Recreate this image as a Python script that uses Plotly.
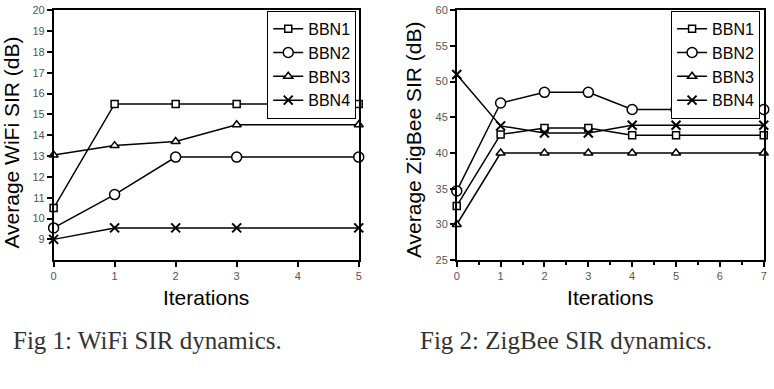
import plotly.graph_objects as go

# ---- data ----
series_names = ["BBN1", "BBN2", "BBN3", "BBN4"]

wifi_iter = [0, 1, 2, 3, 5]
wifi_bbn1 = [10.5, 15.5, 15.5, 15.5, 15.5]
wifi_bbn2 = [9.55, 11.15, 12.95, 12.95, 12.95]
wifi_bbn3 = [13.05, 13.5, 13.7, 14.5, 14.5]
wifi_bbn4 = [9.0, 9.55, 9.55, 9.55, 9.55]

zig_iter = [0, 1, 2, 3, 4, 5, 7]
zig_bbn1 = [32.6, 42.6, 43.5, 43.5, 42.5, 42.5, 42.5]
zig_bbn2 = [34.7, 47.0, 48.5, 48.5, 46.1, 46.1, 46.1]
zig_bbn3 = [30.0, 40.0, 40.0, 40.0, 40.0, 40.0, 40.0]
zig_bbn4 = [51.0, 43.8, 42.8, 42.8, 43.9, 43.9, 43.9]

wifi_yticks = list(range(9, 21))
zig_yticks = [25, 30, 35, 40, 45, 50, 55, 60]
wifi_xticks = [0, 1, 2, 3, 4, 5]
zig_xticks = [0, 1, 2, 3, 4, 5, 6, 7]

y_titles = ["Average WiFi SIR (dB)", "Average ZigBee SIR (dB)"]
x_title = "Iterations"
captions = ["Fig 1: WiFi SIR dynamics.", "Fig 2: ZigBee SIR dynamics."]

# ---- styles ----
symbols = ["square", "circle", "triangle-up", "x-thin"]
sizes = [7, 10, 8, 9]

fig = go.Figure()

def add_series(xv, ys, xa, ya, legend):
    for name, yv, sym, sz in zip(series_names, ys, symbols, sizes):
        marker = dict(symbol=sym, size=sz, color="white",
                      line=dict(color="black", width=1.5))
        if sym == "x-thin":
            marker = dict(symbol=sym, size=sz, color="black",
                          line=dict(color="black", width=2))
        fig.add_trace(go.Scatter(
            x=xv, y=yv, name=name, mode="lines+markers",
            line=dict(color="black", width=1.5),
            marker=marker, xaxis=xa, yaxis=ya, legend=legend,
            cliponaxis=False))

add_series(wifi_iter, [wifi_bbn1, wifi_bbn2, wifi_bbn3, wifi_bbn4], "x", "y", "legend")
add_series(zig_iter, [zig_bbn1, zig_bbn2, zig_bbn3, zig_bbn4], "x2", "y2", "legend2")

W, H = 774, 389
ydom = [1 - 262.3 / H, 1 - 4.3 / H]

axis_common = dict(showline=True, linecolor="black", linewidth=1.5, mirror=True,
                   ticks="outside", ticklen=5, tickcolor="black", tickwidth=1.5,
                   showgrid=False, zeroline=False, ticklabeloverflow="allow",
                   tickfont=dict(family="Liberation Sans, Arial", size=11, color="#555"),
                   title_font=dict(family="Liberation Sans, Arial", size=21, color="black"))

legend_common = dict(y=1 - 5 / H, xanchor="right", yanchor="top",
                     bordercolor="black", borderwidth=1, bgcolor="white",
                     font=dict(family="Liberation Sans, Arial", size=16, color="black"),
                     tracegroupgap=0)

fig.update_layout(
    width=W, height=H, margin=dict(l=0, r=0, t=0, b=0),
    paper_bgcolor="white", plot_bgcolor="white",
    font=dict(family="Liberation Sans, Arial", color="black"),
    xaxis=dict(domain=[51 / W, 358.5 / W], range=[0, 5], tickvals=wifi_xticks,
               title=dict(text=x_title, standoff=9), anchor="y", **axis_common),
    yaxis=dict(domain=ydom, range=[8, 20], tickvals=wifi_yticks, anchor="x", **axis_common),
    xaxis2=dict(domain=[457.3 / W, 766.7 / W], range=[0, 7], tickvals=zig_xticks,
                minor=dict(dtick=0.5, ticks="outside", ticklen=3, tickcolor="black"),
                title=dict(text=x_title, standoff=9), anchor="y2", **axis_common),
    yaxis2=dict(domain=ydom, range=[25, 60], tickvals=zig_yticks, anchor="x2", **axis_common),
    legend=dict(x=356 / W, **legend_common),
    legend2=dict(x=763 / W, **legend_common),
    showlegend=True,
)

# y-axis titles
for cx, cy, txt in zip([9 / W, 413 / W], [1 - 141 / H, 1 - 137.5 / H], y_titles):
    fig.add_annotation(x=cx, y=cy, xref="paper", yref="paper", text=txt,
                       textangle=-90, showarrow=False, xanchor="center", yanchor="middle",
                       font=dict(family="Liberation Sans, Arial", size=21, color="black"))

# captions
for cx, txt in zip([145.5 / W, 567.5 / W], captions):
    fig.add_annotation(x=cx, y=1 - 345 / H, xref="paper", yref="paper",
                       text=txt, showarrow=False, xanchor="center", yanchor="middle",
                       font=dict(family="Liberation Serif, Times New Roman", size=25, color="#333"))

fig.write_html("out.html")
